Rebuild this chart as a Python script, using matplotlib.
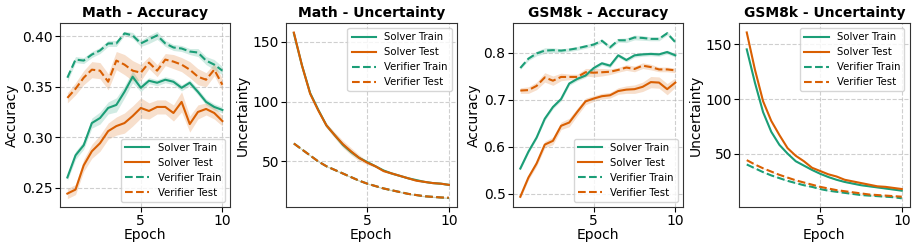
import numpy as np
from matplotlib import pyplot as plt
from matplotlib.ticker import MultipleLocator

GREEN = '#1b9e77'
ORANGE = '#d95f02'

epochs = [0.5, 1, 1.5, 2, 2.5, 3, 3.5, 4, 4.5, 5, 5.5, 6, 6.5, 7, 7.5, 8, 8.5, 9, 9.5, 10]

# Math - Accuracy
math_acc_solver_train = [0.260, 0.282, 0.292, 0.314, 0.319, 0.329, 0.332, 0.345, 0.360, 0.349,
                         0.356, 0.354, 0.357, 0.355, 0.349, 0.354, 0.345, 0.335, 0.330, 0.327]
math_acc_solver_train_std = [0.003, 0.004, 0.004, 0.005, 0.006, 0.006, 0.007, 0.006, 0.006, 0.004,
                             0.003, 0.003, 0.003, 0.003, 0.003, 0.003, 0.003, 0.003, 0.003, 0.003]
math_acc_solver_test = [0.244, 0.248, 0.272, 0.286, 0.294, 0.306, 0.311, 0.314, 0.321, 0.329,
                        0.326, 0.330, 0.330, 0.324, 0.335, 0.313, 0.325, 0.328, 0.324, 0.316]
math_acc_solver_test_std = [0.005, 0.005, 0.006, 0.007, 0.008, 0.008, 0.009, 0.010, 0.010, 0.010,
                            0.008, 0.007, 0.007, 0.008, 0.010, 0.008, 0.007, 0.006, 0.006, 0.005]
math_acc_verifier_train = [0.359, 0.377, 0.376, 0.382, 0.386, 0.393, 0.393, 0.403, 0.401, 0.393,
                           0.397, 0.401, 0.393, 0.389, 0.388, 0.385, 0.384, 0.376, 0.372, 0.366]
math_acc_verifier_train_std = [0.004, 0.003, 0.003, 0.003, 0.003, 0.003, 0.003, 0.002, 0.003, 0.003,
                               0.004, 0.004, 0.003, 0.003, 0.003, 0.003, 0.004, 0.004, 0.005, 0.004]
math_acc_verifier_test = [0.339, 0.348, 0.359, 0.367, 0.366, 0.355, 0.376, 0.372, 0.366, 0.364,
                          0.374, 0.366, 0.377, 0.375, 0.372, 0.367, 0.360, 0.357, 0.367, 0.352]
math_acc_verifier_test_std = [0.005, 0.006, 0.007, 0.008, 0.008, 0.008, 0.009, 0.010, 0.010, 0.008,
                              0.006, 0.006, 0.006, 0.007, 0.007, 0.008, 0.008, 0.007, 0.006, 0.006]

# Math - Uncertainty
math_unc_solver_train = [157, 130, 107, 93, 80, 72, 64, 58, 53, 49.5,
                         46, 42.5, 40, 38, 36, 34.5, 33, 32, 31.5, 30.5]
math_unc_solver_train_std = [1.0, 1.0, 1.0, 1.0, 1.0, 1.2, 1.5, 1.5, 1.0, 1.0,
                             0.8, 0.8, 0.8, 0.6, 0.6, 0.6, 0.5, 0.5, 0.5, 0.5]
math_unc_solver_test = [157.5, 130, 106.5, 92.5, 80, 72, 64.5, 58.5, 53, 49,
                        46, 42, 40, 38, 36, 34, 33, 32, 31.5, 30.5]
math_unc_solver_test_std = [1.0, 1.0, 1.2, 1.5, 2.0, 2.5, 3.0, 3.0, 2.5, 1.5,
                            1.0, 0.8, 0.8, 0.6, 0.6, 0.6, 0.5, 0.5, 0.5, 0.5]
math_unc_verifier_train = [65, 60, 55, 50, 46, 43, 40, 37, 34, 31.5,
                           29.5, 27.5, 26, 24.5, 23, 22, 21, 20.5, 20, 19.5]
math_unc_verifier_train_std = [0.5] * 20
math_unc_verifier_test = [65, 60, 55, 50, 46, 43, 40, 37, 34, 31.5,
                          29.5, 27.5, 26, 24.5, 23, 22, 21, 20.5, 20, 19.8]
math_unc_verifier_test_std = [0.5] * 20

# GSM8k - Accuracy
gsm_acc_solver_train = [0.554, 0.590, 0.620, 0.660, 0.685, 0.702, 0.735, 0.745, 0.752, 0.768,
                        0.778, 0.773, 0.795, 0.785, 0.795, 0.797, 0.798, 0.797, 0.802, 0.795]
gsm_acc_solver_train_std = [0.003, 0.003, 0.003, 0.004, 0.004, 0.004, 0.004, 0.004, 0.004, 0.004,
                            0.004, 0.004, 0.004, 0.004, 0.004, 0.004, 0.004, 0.004, 0.004, 0.004]
gsm_acc_solver_test = [0.494, 0.535, 0.565, 0.605, 0.613, 0.645, 0.652, 0.675, 0.697, 0.703,
                       0.708, 0.710, 0.719, 0.722, 0.723, 0.728, 0.738, 0.737, 0.723, 0.737]
gsm_acc_solver_test_std = [0.004, 0.005, 0.006, 0.007, 0.008, 0.008, 0.009, 0.008, 0.007, 0.006,
                           0.006, 0.006, 0.007, 0.008, 0.009, 0.010, 0.012, 0.012, 0.012, 0.010]
gsm_acc_verifier_train = [0.768, 0.788, 0.799, 0.805, 0.806, 0.805, 0.807, 0.810, 0.814, 0.818,
                          0.826, 0.812, 0.827, 0.827, 0.833, 0.832, 0.830, 0.830, 0.842, 0.823]
gsm_acc_verifier_train_std = [0.003, 0.004, 0.005, 0.006, 0.005, 0.004, 0.004, 0.004, 0.004, 0.004,
                              0.004, 0.004, 0.004, 0.005, 0.005, 0.005, 0.004, 0.004, 0.004, 0.004]
gsm_acc_verifier_test = [0.720, 0.721, 0.730, 0.748, 0.741, 0.749, 0.749, 0.749, 0.759, 0.758,
                         0.759, 0.760, 0.764, 0.769, 0.766, 0.773, 0.770, 0.765, 0.765, 0.763]
gsm_acc_verifier_test_std = [0.006, 0.007, 0.008, 0.010, 0.010, 0.008, 0.006, 0.006, 0.008, 0.009,
                             0.008, 0.006, 0.005, 0.006, 0.006, 0.006, 0.006, 0.005, 0.005, 0.005]

# GSM8k - Uncertainty
gsm_unc_solver_train = [145.5, 115, 88, 70, 58, 50, 43, 39, 35, 31.5,
                        28.5, 26, 24, 22.5, 21, 20, 19, 18, 17, 16]
gsm_unc_solver_train_std = [1.0, 1.0, 1.0, 0.8, 0.8, 0.6, 0.6, 0.5, 0.5, 0.5,
                            0.4, 0.4, 0.4, 0.4, 0.3, 0.3, 0.3, 0.3, 0.3, 0.3]
gsm_unc_solver_test = [161, 127, 98, 80, 67, 55, 48, 43, 37, 34,
                       31, 29, 26, 24.5, 23, 21.5, 20, 19.5, 18.5, 17.5]
gsm_unc_solver_test_std = [1.0, 1.0, 1.0, 0.8, 0.8, 0.6, 0.6, 0.5, 0.5, 0.5,
                           0.4, 0.4, 0.4, 0.4, 0.3, 0.3, 0.3, 0.3, 0.3, 0.3]
gsm_unc_verifier_train = [40, 36.5, 33, 30, 27.5, 25, 23, 21, 19.5, 17.5,
                          16, 15, 14, 13, 12, 11.5, 11, 10.5, 10, 9]
gsm_unc_verifier_train_std = [0.3] * 20
gsm_unc_verifier_test = [44, 40, 36.5, 33.5, 30.5, 28, 25.5, 23.5, 21.5, 19.5,
                         18, 16.5, 15.5, 14.5, 13.5, 12.5, 12, 11.5, 11, 10.5]
gsm_unc_verifier_test_std = [0.3] * 20

labels = ['Solver Train', 'Solver Test', 'Verifier Train', 'Verifier Test']
colors = [GREEN, ORANGE, GREEN, ORANGE]
styles = ['-', '-', '--', '--']

panels = [
    ('Math - Accuracy', 'Accuracy', 'lower right',
     [(math_acc_solver_train, math_acc_solver_train_std), (math_acc_solver_test, math_acc_solver_test_std),
      (math_acc_verifier_train, math_acc_verifier_train_std), (math_acc_verifier_test, math_acc_verifier_test_std)]),
    ('Math - Uncertainty', 'Uncertainty', 'upper right',
     [(math_unc_solver_train, math_unc_solver_train_std), (math_unc_solver_test, math_unc_solver_test_std),
      (math_unc_verifier_train, math_unc_verifier_train_std), (math_unc_verifier_test, math_unc_verifier_test_std)]),
    ('GSM8k - Accuracy', 'Accuracy', 'lower right',
     [(gsm_acc_solver_train, gsm_acc_solver_train_std), (gsm_acc_solver_test, gsm_acc_solver_test_std),
      (gsm_acc_verifier_train, gsm_acc_verifier_train_std), (gsm_acc_verifier_test, gsm_acc_verifier_test_std)]),
    ('GSM8k - Uncertainty', 'Uncertainty', 'upper right',
     [(gsm_unc_solver_train, gsm_unc_solver_train_std), (gsm_unc_solver_test, gsm_unc_solver_test_std),
      (gsm_unc_verifier_train, gsm_unc_verifier_train_std), (gsm_unc_verifier_test, gsm_unc_verifier_test_std)]),
]

fig, axes = plt.subplots(1, 4, figsize=(9.13, 2.5), dpi=100)
plt.subplots_adjust(left=0.0653, right=0.9962, bottom=0.172, top=0.908, wspace=0.328)

x = np.array(epochs)
for ax, (title, ylabel, loc, series) in zip(axes, panels):
    for (mean, std), label, color, ls in zip(series, labels, colors, styles):
        mean = np.array(mean)
        std = np.array(std)
        ax.fill_between(x, mean - std, mean + std, color=color, alpha=0.2, linewidth=0)
        ax.plot(x, mean, ls, color=color, linewidth=1.5, label=label)
    ax.set_title(title, fontsize=10, fontweight='bold', pad=4)
    ax.set_xlabel('Epoch', fontsize=10, labelpad=0)
    ax.set_ylabel(ylabel, fontsize=10, labelpad=2)
    ax.set_xticks([5, 10])
    ax.tick_params(labelsize=10, pad=1.5)
    ax.grid(True, linestyle='--', alpha=0.6)
    for s in ax.spines.values():
        s.set_edgecolor('#333333')
    ax.legend(loc=loc, fontsize=7.3, handlelength=2.4)

axes[0].yaxis.set_major_locator(MultipleLocator(0.05))
axes[0].yaxis.set_major_formatter(plt.FormatStrFormatter('%.2f'))
axes[1].yaxis.set_major_locator(MultipleLocator(50))
axes[2].yaxis.set_major_locator(MultipleLocator(0.1))
axes[3].yaxis.set_major_locator(MultipleLocator(50))

plt.savefig('out.png', dpi=100)
